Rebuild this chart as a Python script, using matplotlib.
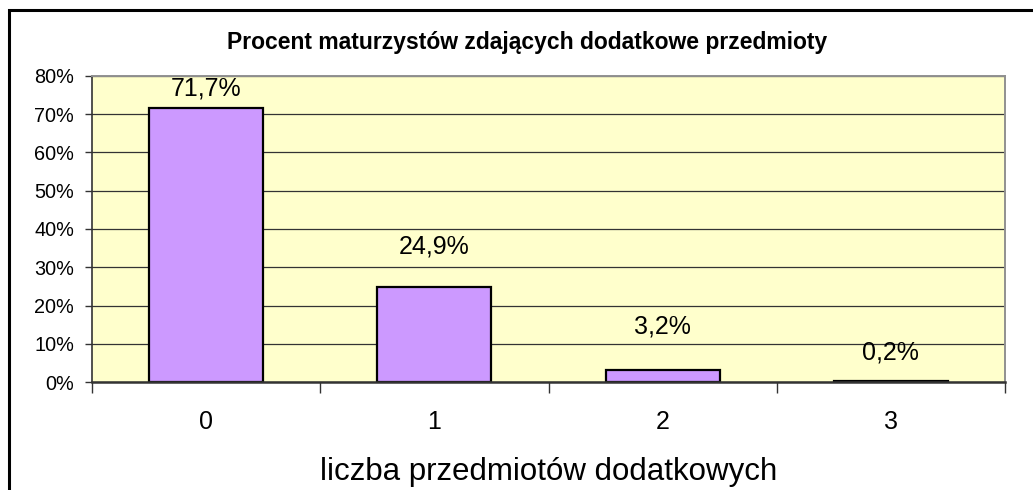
import matplotlib
matplotlib.use("Agg")
import matplotlib.pyplot as plt
from matplotlib.patches import Rectangle
from matplotlib.ticker import FixedLocator, FuncFormatter

plt.rcParams['font.family'] = ['Liberation Sans', 'DejaVu Sans']

categories = ["0", "1", "2", "3"]
values = [71.7, 24.9, 3.2, 0.2]
value_labels = ["71,7%", "24,9%", "3,2%", "0,2%"]
yticks = [0, 10, 20, 30, 40, 50, 60, 70, 80]
title = "Procent maturzystów zdających dodatkowe przedmioty"
xlabel = "liczba przedmiotów dodatkowych"

# label offsets above bar tops (points) - style only
label_offsets = [14, 29, 31, 21]

fig = plt.figure(figsize=(10.33, 4.9), dpi=100)
fig.patch.set_facecolor('white')

# outer chart frame (cropped at right and bottom)
fig.add_artist(Rectangle((9 / 1033, -0.2), 1.2, 1 - 10 / 490 + 0.2,
                         transform=fig.transFigure, fill=False,
                         edgecolor='black', linewidth=2.2, zorder=0))

ax = fig.add_axes([92 / 1033, 1 - 382 / 490, (1005 - 92) / 1033, (382 - 76) / 490])
ax.set_facecolor('#FFFFCC')

x = list(range(len(categories)))
ax.bar(x, values, width=0.5, color='#CC99FF', edgecolor='black', linewidth=1.6, zorder=2)

ax.set_xlim(-0.5, len(categories) - 0.5)
ax.set_ylim(0, 80)

ax.set_yticks(yticks)
ax.yaxis.set_major_formatter(FuncFormatter(lambda v, p: f"{int(v)}%"))
ax.yaxis.grid(True, color='#333333', linewidth=0.9)
ax.set_axisbelow(True)
ax.tick_params(axis='y', direction='out', length=5, width=1, color='#333333',
               labelsize=14.3, pad=8)

# x: boundary ticks (major) and centred labels (minor)
ax.xaxis.set_major_locator(FixedLocator([i - 0.5 for i in range(len(categories) + 1)]))
ax.xaxis.set_major_formatter(FuncFormatter(lambda v, p: ""))
ax.xaxis.set_minor_locator(FixedLocator(x))
ax.set_xticklabels(categories, minor=True)
ax.tick_params(axis='x', which='major', direction='out', length=8, width=1, color='#333333')
ax.tick_params(axis='x', which='minor', length=0, labelsize=18, pad=20)

ax.spines['left'].set_color('#333333')
ax.spines['left'].set_linewidth(1.2)
ax.spines['bottom'].set_color('#333333')
ax.spines['bottom'].set_linewidth(1.8)
for s in ['top', 'right']:
    ax.spines[s].set_color('#909090')
    ax.spines[s].set_linewidth(1.4)

for xi, v, lab, off in zip(x, values, value_labels, label_offsets):
    ax.annotate(lab, (xi, v), xytext=(0, off), textcoords='offset points',
                ha='center', va='center', fontsize=18, zorder=5)

ax.set_xlabel(xlabel, fontsize=22.5, labelpad=17)

fig.text(527 / 1033, 1 - 42 / 490, title, ha='center', va='center',
         fontsize=16.5, fontweight='bold')

fig.savefig('out.png', dpi=100, facecolor='white')
